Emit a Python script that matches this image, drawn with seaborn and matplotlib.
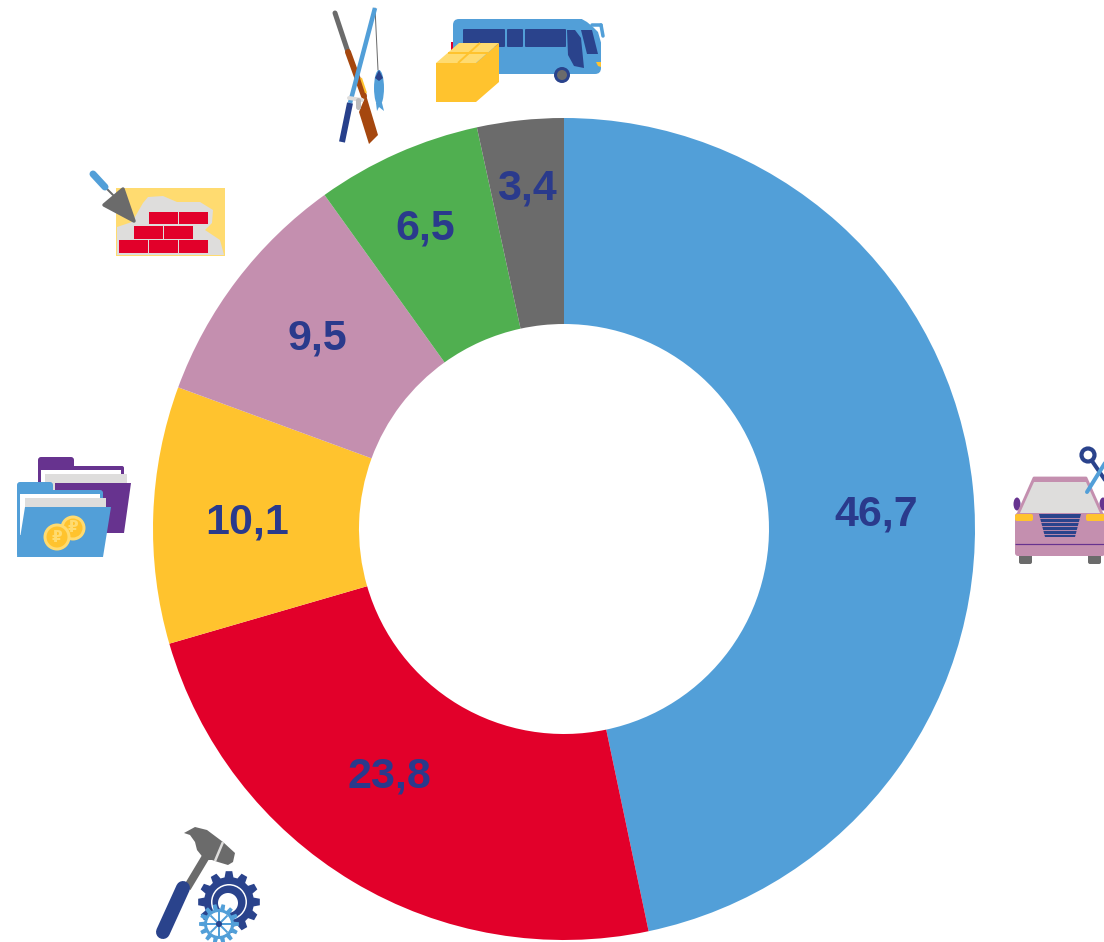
import numpy as np
import seaborn as sns
import matplotlib
matplotlib.use("Agg")
import matplotlib.pyplot as plt
from matplotlib.patches import Circle, Ellipse, FancyBboxPatch, Polygon, Rectangle

shares = [46.7, 23.8, 10.1, 9.5, 6.5, 3.4]
printed_labels = ["46,7", "23,8", "10,1", "9,5", "6,5", "3,4"]
slice_colors = ["#529FD8", "#E2002A", "#FFC32E", "#C48FAF", "#50AF50", "#6B6B6B"]
label_pos = [(876, 515), (389, 776), (247, 522), (317, 339), (425, 228), (527, 189)]

BLUE, RED, YELLOW, PINK, GREY = slice_colors[0], slice_colors[1], slice_colors[2], slice_colors[3], slice_colors[5]
NAVY = "#2A438C"
PURPLE = "#67338F"
PALE = "#FFDB70"
LIGHT = "#DEDDDC"
BROWN = "#A5470F"

W, H = 1104, 942

sns.set_theme(style="white")
plt.rcParams["font.family"] = ["Liberation Sans", "DejaVu Sans"]

fig = plt.figure(figsize=(W / 100, H / 100), dpi=100)
ax = fig.add_axes([0, 0, 1, 1])


def fy(y):
    return H - y


def poly(points, color, z=3, edge=0):
    ax.add_patch(Polygon([(x, fy(y)) for x, y in points], closed=True, fc=color,
                         ec=color if edge else "none", lw=edge, joinstyle="round", zorder=z))


def rect(x0, y0, x1, y1, color, z=3):
    ax.add_patch(Rectangle((x0, fy(y1)), x1 - x0, y1 - y0, fc=color, ec="none", zorder=z))


def rrect(x0, y0, x1, y1, color, r=3, z=3):
    ax.add_patch(FancyBboxPatch((x0 + r, fy(y1) + r), x1 - x0 - 2 * r, y1 - y0 - 2 * r,
                                boxstyle=f"round,pad={r},rounding_size={r}", fc=color, ec="none", zorder=z))


def line(x0, y0, x1, y1, color, lw, z=3, cap="round"):
    ax.plot([x0, x1], [fy(y0), fy(y1)], color=color, lw=lw * 0.72, solid_capstyle=cap, zorder=z)


def circ(x, y, r, color, z=3):
    ax.add_patch(Circle((x, fy(y)), r, fc=color, ec="none", zorder=z))


def oval(x, y, w, h, color, z=3):
    ax.add_patch(Ellipse((x, fy(y)), w, h, fc=color, ec="none", zorder=z))


def gear(x, y, r_out, r_in, teeth, color, z=3):
    angs, rads = [], []
    for i in range(teeth):
        a = 2 * np.pi * i / teeth
        s = 2 * np.pi / teeth
        angs += [a - s * 0.34, a - s * 0.2, a + s * 0.2, a + s * 0.34]
        rads += [r_in, r_out, r_out, r_in]
    poly([(x + r * np.cos(a), y + r * np.sin(a)) for a, r in zip(angs, rads)], color, z)


# the ring itself
ax.pie(shares, colors=sns.color_palette(slice_colors), startangle=90, counterclock=False,
       center=(564, fy(529)), radius=411, frame=True, wedgeprops={"width": 206, "linewidth": 0})
for txt, (x, y) in zip(printed_labels, label_pos):
    ax.text(x, fy(y), txt, color="#2A3A8C", fontsize=31, fontweight="bold", ha="center", va="center", zorder=5)

# bus + parcel
rect(451, 42, 454, 50, RED)
rrect(453, 19, 601, 74, BLUE, r=6)
poly([(580, 18), (602, 18), (602, 46), (598, 32), (593, 27), (587, 22)], "white", 3.5)
for x0, x1 in [(463, 505), (507, 523), (525, 566)]:
    rrect(x0, 29, x1, 47, NAVY, r=1, z=4)
poly([(567, 30), (575, 30), (581, 38), (584, 68), (574, 66), (568, 55)], NAVY, 4)
poly([(581, 30), (592, 30), (598, 54), (587, 54)], NAVY, 4)
line(592, 25, 601, 25, BLUE, 3.5, 4)
line(601, 25, 603, 36, BLUE, 3.5, 4)
poly([(596, 62), (601, 62), (601, 67), (598, 66)], YELLOW, 5)
circ(562, 75, 8, NAVY, 4)
circ(562, 75, 5, GREY, 5)
poly([(436, 63), (476, 63), (476, 102), (436, 102)], YELLOW, 6)
poly([(476, 63), (499, 43), (499, 82), (476, 102)], YELLOW, 6)
poly([(436, 63), (476, 63), (499, 43), (459, 43)], PALE, 6)
line(448, 53, 488, 53, YELLOW, 2, 7, "butt")
line(458, 63, 480, 43, YELLOW, 2, 7, "butt")

# rifle + fishing rod
line(335, 13, 348, 52, GREY, 5)
line(348, 52, 364, 96, BROWN, 6)
poly([(359, 112), (366, 95), (378, 135), (369, 144)], BROWN)
line(375, 8, 350, 103, BLUE, 4.5, 4, "butt")
line(350, 103, 342, 142, "#27408B", 6, 4, "butt")
line(375, 8, 378, 70, GREY, 1, 2)
oval(379, 88, 10, 36, BLUE)
poly([(376, 103), (382, 103), (384, 111), (379, 107), (377, 111)], BLUE)
poly([(375, 78), (379, 70), (383, 78), (379, 81)], NAVY, 4)
line(349, 98, 362, 100, LIGHT, 4, 5)
line(358, 100, 358, 107, "#BBBBBB", 5, 5)
line(361, 78, 366, 93, YELLOW, 2, 5, "butt")

# bricks + trowel
rect(116, 188, 225, 255.5, PALE, 2)
poly([(117, 255), (117, 227), (132, 222), (143, 203), (148, 197), (163, 196), (177, 202),
      (200, 202), (213, 210), (212, 223), (205, 230), (220, 240), (224, 255)], LIGHT, 2.5)
for x0, x1, y0, y1 in [(149, 178, 212, 224), (179, 208, 212, 224),
                       (134, 163, 226, 239), (164, 193, 226, 239),
                       (119, 148, 240, 253), (149, 178, 240, 253), (179, 208, 240, 253)]:
    rect(x0, y0, x1, y1, RED)
poly([(123, 189), (104, 205), (134, 221)], GREY, 4, edge=2.5)
line(106, 188, 113, 195, GREY, 2)
line(93, 174, 105, 187, BLUE, 7, cap="round")

# folders + coins
rrect(38, 457, 74, 480, PURPLE, r=3)
rrect(38, 466, 124, 500, PURPLE, r=2)
rect(41, 470, 121, 490, "white")
rect(45, 474, 127, 490, LIGHT)
poly([(55, 483), (131, 483), (124, 533), (55, 533)], PURPLE)
rrect(17, 482, 53, 510, BLUE, r=3, z=4)
rrect(17, 490, 103, 557, BLUE, r=3, z=4)
rect(20, 494, 100, 535, "white", 4)
rect(25, 498, 106, 520, LIGHT, 4)
poly([(25, 507), (111, 507), (103, 557), (17, 557)], BLUE, 5)
circ(73, 528, 12.5, PALE, 6)
circ(73, 528, 9.5, YELLOW, 6)
circ(57, 537, 13.5, PALE, 6)
circ(57, 537, 10.5, YELLOW, 6)
ax.text(73, fy(528), "₽", color=PALE, fontsize=11, fontweight="bold", family="DejaVu Sans",
        ha="center", va="center", zorder=7)
ax.text(57, fy(537), "₽", color=PALE, fontsize=11, fontweight="bold", family="DejaVu Sans",
        ha="center", va="center", zorder=7)

# car + scissors
rrect(1019, 550, 1032, 564, GREY, r=2, z=2)
rrect(1088, 550, 1101, 564, GREY, r=2, z=2)
oval(1017, 504, 7, 13, PURPLE, 2)
oval(1103, 504, 7, 13, PURPLE, 2)
poly([(1034, 478), (1086, 478), (1102, 514), (1018, 514)], PINK, 3, edge=2)
poly([(1034, 482), (1086, 482), (1100, 513), (1020, 513)], LIGHT, 4)
rrect(1015, 513, 1105, 556, PINK, r=3)
rrect(1015, 514, 1033, 521, YELLOW, r=2, z=4)
rrect(1086, 514, 1105, 521, YELLOW, r=2, z=4)
poly([(1039, 514), (1081, 514), (1075, 537), (1045, 537)], NAVY, 4)
for y in [518, 522, 526, 530, 534]:
    line(1038, y, 1082, y, PINK, 0.9, 5, "butt")
line(1015, 544, 1105, 544, PURPLE, 1.2, 5, "butt")
ax.add_patch(Circle((1088, fy(455)), 6.5, fc="none", ec=NAVY, lw=3, zorder=5))
line(1092, 461, 1105, 480, NAVY, 4, 5)
line(1087, 492, 1105, 463, BLUE, 4, 6)

# hammer + gears
line(208, 853, 187, 888, GREY, 8, cap="butt")
line(183, 888, 163, 932, NAVY, 14)
poly([(184, 833), (195, 827), (207, 830), (223, 842), (235, 853), (233, 862), (228, 865),
      (218, 862), (212, 860), (205, 860), (197, 850), (195, 842), (190, 835)], GREY)
line(223, 842, 215, 861, LIGHT, 2.5, 4, "butt")
gear(229, 902, 31, 25, 12, NAVY)
circ(229, 902, 18, "white", 4)
circ(229, 902, 16.5, NAVY, 4)
circ(228, 903, 10, "white", 4)
gear(219, 924, 20, 15, 14, BLUE, 5)
circ(219, 924, 12, "white", 5)
for a in np.arange(0, np.pi, np.pi / 4):
    line(219 - 12 * np.cos(a), 924 - 12 * np.sin(a), 219 + 12 * np.cos(a), 924 + 12 * np.sin(a), BLUE, 2, 6, "butt")
circ(219, 924, 3, NAVY, 7)

ax.set_xlim(0, W)
ax.set_ylim(0, H)
ax.set_aspect("equal")
ax.axis("off")

fig.savefig("out.png", dpi=100, facecolor="white")
